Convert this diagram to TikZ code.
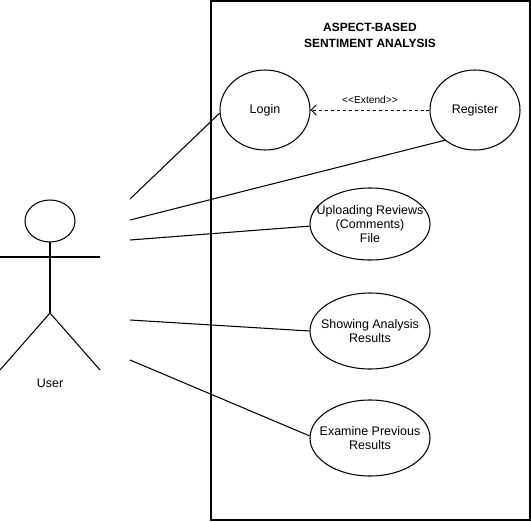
\documentclass[tikz,border=0pt]{standalone}
\usepackage{fontspec}
\setmainfont{Liberation Sans}
\usepackage{tikz}
\usetikzlibrary{positioning, arrows.meta, shapes.geometric}
\tikzset{
  usecase/.style={draw, ellipse, line width=0.6pt, inner sep=0pt},
  uctext/.style={font=\fontsize{7.1}{8}\selectfont, align=center, inner sep=0pt},
  link/.style={line width=0.6pt},
}

\begin{document}
\begin{tikzpicture}[x=0.02cm, y=-0.02cm]
  \useasboundingbox (0,0) rectangle (531,521);
  \draw[line width=0.6pt] (211,1) rectangle (530,520);
  \node[font=\fontsize{6.8}{9}\selectfont\bfseries, align=center] (title) at (370,35) {ASPECT-BASED\\SENTIMENT ANALYSIS};
  % use cases
  \node[usecase, minimum width=90*0.02cm, minimum height=80*0.02cm] (login) at (265,110) {};
  \node[uctext] at (login) {Login};
  \node[usecase, minimum width=90*0.02cm, minimum height=80*0.02cm] (register) at (475,110) {};
  \node[uctext] at (register) {Register};
  \node[usecase, minimum width=120*0.02cm, minimum height=72*0.02cm] (upload) at (370,224) {};
  \node[uctext] at (upload) {Uploading Reviews\\(Comments)\\File};
  \node[usecase, minimum width=120*0.02cm, minimum height=76*0.02cm] (show) at (370,331) {};
  \node[uctext] at (show) {Showing Analysis\\Results};
  \node[usecase, minimum width=120*0.02cm, minimum height=76*0.02cm] (examine) at (370,438) {};
  \node[uctext] at (examine) {Examine Previous\\Results};
  \draw[line width=0.5pt, dash pattern=on 1.7pt off 1.7pt, -{Straight Barb[length=3pt, width=6pt]}] (register) -- node[above, font=\fontsize{5.8}{6}\selectfont] {<{}<Extend>{}>} (login);
  % actor
  \draw[line width=0.6pt] (50,221) ellipse (25 and 21);
  \draw[line width=0.6pt] (50,242) -- (50,313) (0,257) -- (100,257);
  \draw[line width=0.6pt] (0,370) -- (50,313) -- (100,370);
  \node[font=\fontsize{7.1}{8}\selectfont] (user) at (50,383) {User};
  \coordinate (a1) at (130,199);
  \coordinate (a2) at (130,220);
  \coordinate (a3) at (130,240);
  \coordinate (a4) at (130,320);
  \coordinate (a5) at (130,360);
  \draw[link] (a1) -- (login.184);
  \draw[link] (a2) -- (register.225);
  \draw[link] (a3) -- (upload.182);
  \draw[link] (a4) -- (show.180);
  \draw[link] (a5) -- (examine.178);
\end{tikzpicture}
\end{document}
